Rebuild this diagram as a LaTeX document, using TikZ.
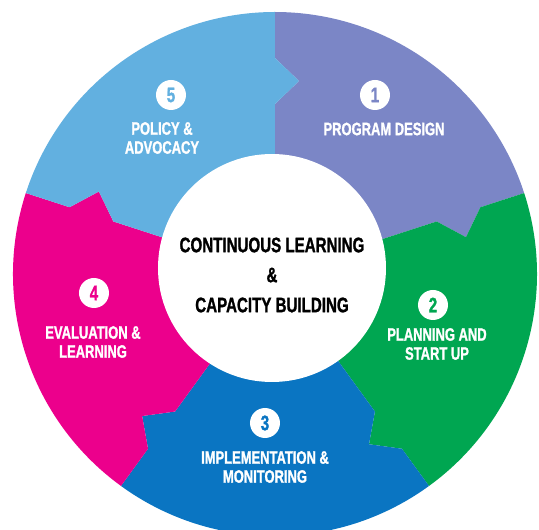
\documentclass[tikz,border=0pt]{standalone}
\usepackage{fontspec}
\newfontfamily\condfont{Liberation Sans}[FakeStretch=0.72, BoldFeatures={FakeBold=1.2}]
\definecolor{pdesign}{RGB}{123,134,198}
\definecolor{plan}{RGB}{0,166,81}
\definecolor{impl}{RGB}{10,117,194}
\definecolor{evalu}{RGB}{236,0,140}
\definecolor{policy}{RGB}{98,176,224}

\begin{document}
\begin{tikzpicture}[x = 1pt, y = 1pt,
    every node/.style = {font = \condfont\bfseries\fontsize{18}{19}\selectfont, align = center},
    stage/.style = {text = white},
    badge/.style = {shape = circle, fill = white, inner sep = 0pt, minimum size = 30pt,
        font = \condfont\bfseries\fontsize{21}{21}\selectfont}]
    \clip (-275,-256) rectangle (264,274);
    \foreach \a/\col in {90/pdesign, 18/plan, -54/impl, -126/evalu, -198/policy}
        \fill[\col, rotate = \a] (0,0) -- (170,0) -- (193,-24) -- (216,0) -- (262,0)
            arc[start angle = 0, end angle = -72, radius = 262]
            -- (-72:216) -- ([rotate = -72]193,-24) -- (-72:170) -- cycle;
    \fill[white] (-3,6) circle[radius = 114];
    \node[font = \condfont\bfseries\fontsize{21}{30}\selectfont] (hub) at (-3,-1)
        {CONTINUOUS LEARNING\\\&\\CAPACITY BUILDING};
    \node[badge, text = pdesign] (num1) at (100,179) {1};
    \node[stage] (stage1) at (109,145) {PROGRAM DESIGN};
    \node[badge, text = plan] (num2) at (158,-31) {2};
    \node[stage] (stage2) at (162,-70) {PLANNING AND\\START UP};
    \node[badge, text = impl] (num3) at (-10,-149) {3};
    \node[stage] (stage3) at (-10,-193) {IMPLEMENTATION \&\\MONITORING};
    \node[badge, text = evalu] (num4) at (-181,-19) {4};
    \node[stage] (stage4) at (-182,-68) {EVALUATION \&\\LEARNING};
    \node[badge, text = policy] (num5) at (-104,179) {5};
    \node[stage] (stage5) at (-113,136) {POLICY \&\\ADVOCACY};
\end{tikzpicture}
\end{document}
